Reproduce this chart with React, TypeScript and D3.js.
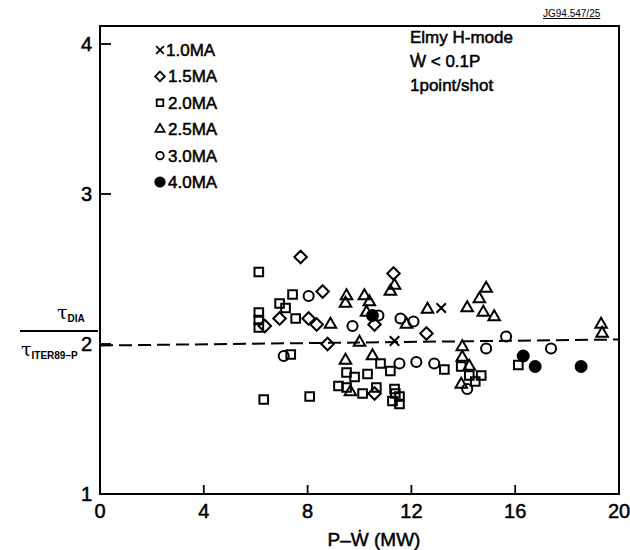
import React from 'react';
import * as d3 from 'd3';

// current series (legend order)
const seriesNames = ['1.0MA', '1.5MA', '2.0MA', '2.5MA', '3.0MA', '4.0MA'];

// P - Wdot (MW), tauDIA / tauITER89-P
const ma10 = [[11.35, 2.02], [13.15, 2.24]];
const ma15 = [
  [7.73, 2.58], [11.31, 2.47], [6.35, 2.12], [6.92, 2.17], [8.58, 2.35], [8.04, 2.17],
  [8.35, 2.13], [8.77, 2.0], [10.58, 2.13], [12.58, 2.07], [10.58, 1.67],
];
const ma20 = [
  [6.12, 2.48], [6.12, 2.21], [6.12, 2.16], [6.12, 2.11], [6.31, 1.63], [7.42, 2.33],
  [6.92, 2.27], [7.15, 2.24], [7.54, 2.17], [7.35, 1.93], [8.08, 1.65], [9.5, 1.81],
  [9.81, 1.78], [10.31, 1.8], [10.81, 1.87], [11.19, 1.82], [9.19, 1.72], [9.5, 1.71],
  [10.12, 1.67], [10.65, 1.71], [11.35, 1.7], [11.38, 1.67], [11.54, 1.65], [11.27, 1.62],
  [11.54, 1.6], [13.27, 1.83], [13.92, 1.85], [14.23, 1.79], [14.69, 1.79], [14.46, 1.75],
  [16.12, 1.86],
];
const ma25 = [
  [11.35, 2.39], [11.19, 2.35], [9.5, 2.32], [9.46, 2.27], [10.19, 2.32], [10.38, 2.28],
  [8.88, 2.13], [10.27, 2.21], [11.81, 2.13], [12.62, 2.23], [10.0, 2.01], [9.46, 1.89],
  [10.5, 1.92], [9.65, 1.68], [14.15, 2.24], [14.62, 2.3], [14.88, 2.37], [14.77, 2.21],
  [15.19, 2.18], [13.96, 1.98], [13.96, 1.91], [14.23, 1.85], [13.92, 1.73], [19.31, 2.13],
  [19.35, 2.07],
];
const ma30 = [
  [8.04, 2.32], [9.73, 2.12], [10.73, 2.19], [11.58, 2.17], [12.08, 2.15], [7.08, 1.92],
  [11.54, 1.87], [12.19, 1.88], [12.88, 1.87], [14.15, 1.7], [14.88, 1.97], [15.65, 2.05],
  [17.38, 1.97],
];
const ma40 = [[10.5, 2.19], [16.31, 1.92], [16.77, 1.85], [18.54, 1.85]];

// dashed reference line endpoints
const refLine = [[0, 1.99], [20, 2.03]];

const xTicks = [0, 4, 8, 12, 16, 20];
const yTicks = [1, 2, 3, 4];

const font = '"Liberation Sans", Arial, sans-serif';
const Wdot = '\u1E86';

export default function App() {
  const width = 630;
  const height = 550;

  const x = d3.scaleLinear().domain([0, 20]).range([100, 619]);
  const y = d3.scaleLinear().domain([1, 4]).range([494, 44]);
  const top = 26;

  const sym = (type: any, size: number) => d3.symbol().type(type).size(size)()!;
  const shapes = [
    { data: ma10, path: sym(d3.symbolTimes, 60), fill: 'none', lpath: sym(d3.symbolTimes, 40) },
    { data: ma15, path: sym(d3.symbolDiamond2, 100), fill: 'none', lpath: sym(d3.symbolDiamond2, 60) },
    { data: ma20, path: sym(d3.symbolSquare2, 95), fill: 'none', lpath: sym(d3.symbolSquare2, 55) },
    { data: ma25, path: sym(d3.symbolTriangle2, 95), fill: 'none', lpath: sym(d3.symbolTriangle2, 60) },
    { data: ma30, path: sym(d3.symbolCircle, 80), fill: 'none', lpath: sym(d3.symbolCircle, 45) },
    { data: ma40, path: sym(d3.symbolCircle, 95), fill: '#000', lpath: sym(d3.symbolCircle, 70) },
  ];

  const line = d3.line<number[]>().x(d => x(d[0])).y(d => y(d[1]));
  const bold = { stroke: '#000', strokeWidth: 0.5 };

  return (
    <svg width={width} height={height} style={{ position: 'absolute', left: 0, top: 0, background: '#fff' }}
      fontFamily={font}>
      {/* frame */}
      <rect x={x(0)} y={top} width={x(20) - x(0)} height={y(1) - top} fill="none" stroke="#000" strokeWidth={2} />

      {/* ticks */}
      {xTicks.slice(1, -1).map(t => (
        <line key={'xt' + t} x1={x(t)} x2={x(t)} y1={y(1)} y2={y(1) - 9} stroke="#000" strokeWidth={1.8} />
      ))}
      {yTicks.slice(1).map(t => (
        <line key={'yt' + t} x1={x(0)} x2={x(0) + 11} y1={y(t)} y2={y(t)} stroke="#000" strokeWidth={1.8} />
      ))}
      {xTicks.map(t => (
        <text key={'xl' + t} x={x(t)} y={y(1) + 24} fontSize={20} textAnchor="middle" fill="#000" {...bold}>{t}</text>
      ))}
      {yTicks.map(t => (
        <text key={'yl' + t} x={x(0) - 8} y={y(t) + 7} fontSize={20} textAnchor="end" fill="#000" {...bold}>{t}</text>
      ))}

      {/* axis titles */}
      <text x={374} y={546} fontSize={19} textAnchor="middle" fill="#000" {...bold}>{'P–' + Wdot + ' (MW)'}</text>
      <text x={57} y={319} fontSize={19} fill="#000" fontFamily='"DejaVu Serif", serif'>
        <tspan>τ</tspan>
        <tspan fontSize={10} dy={3} fontFamily={font} fontWeight="bold">DIA</tspan>
      </text>
      <line x1={20} x2={98} y1={331} y2={331} stroke="#000" strokeWidth={1.8} />
      <text x={21} y={356} fontSize={19} fill="#000" fontFamily='"DejaVu Serif", serif'>
        <tspan>τ</tspan>
        <tspan fontSize={10} dy={3} fontFamily={font} fontWeight="bold">ITER89–P</tspan>
      </text>

      {/* annotations */}
      <text x={543} y={17} fontSize={10} fill="#000" textDecoration="underline">JG94.547/25</text>
      <g fontSize={17} fill="#000" {...bold}>
        <text x={410} y={43}>Elmy H-mode</text>
        <text x={410} y={67}>{Wdot + ' < 0.1P'}</text>
        <text x={410} y={91}>1point/shot</text>
      </g>

      {/* reference line */}
      <path d={line(refLine)!} fill="none" stroke="#000" strokeWidth={2} strokeDasharray="13,6" />

      {/* points */}
      {shapes.map((s, i) => (
        <g key={'s' + i}>
          {s.data.map((d, j) => (
            <path key={j} d={s.path} transform={`translate(${x(d[0])},${y(d[1])})`}
              fill={s.fill} stroke="#000" strokeWidth={2} />
          ))}
        </g>
      ))}

      {/* legend */}
      {seriesNames.map((n, i) => (
        <g key={n} transform={`translate(160,${50 + i * 26.4})`}>
          <path d={shapes[i].lpath} fill={shapes[i].fill} stroke="#000" strokeWidth={1.8} />
          <text x={i === 0 ? 6 : 8} y={6} fontSize={17} fill="#000" {...bold}>{n}</text>
        </g>
      ))}
    </svg>
  );
}
